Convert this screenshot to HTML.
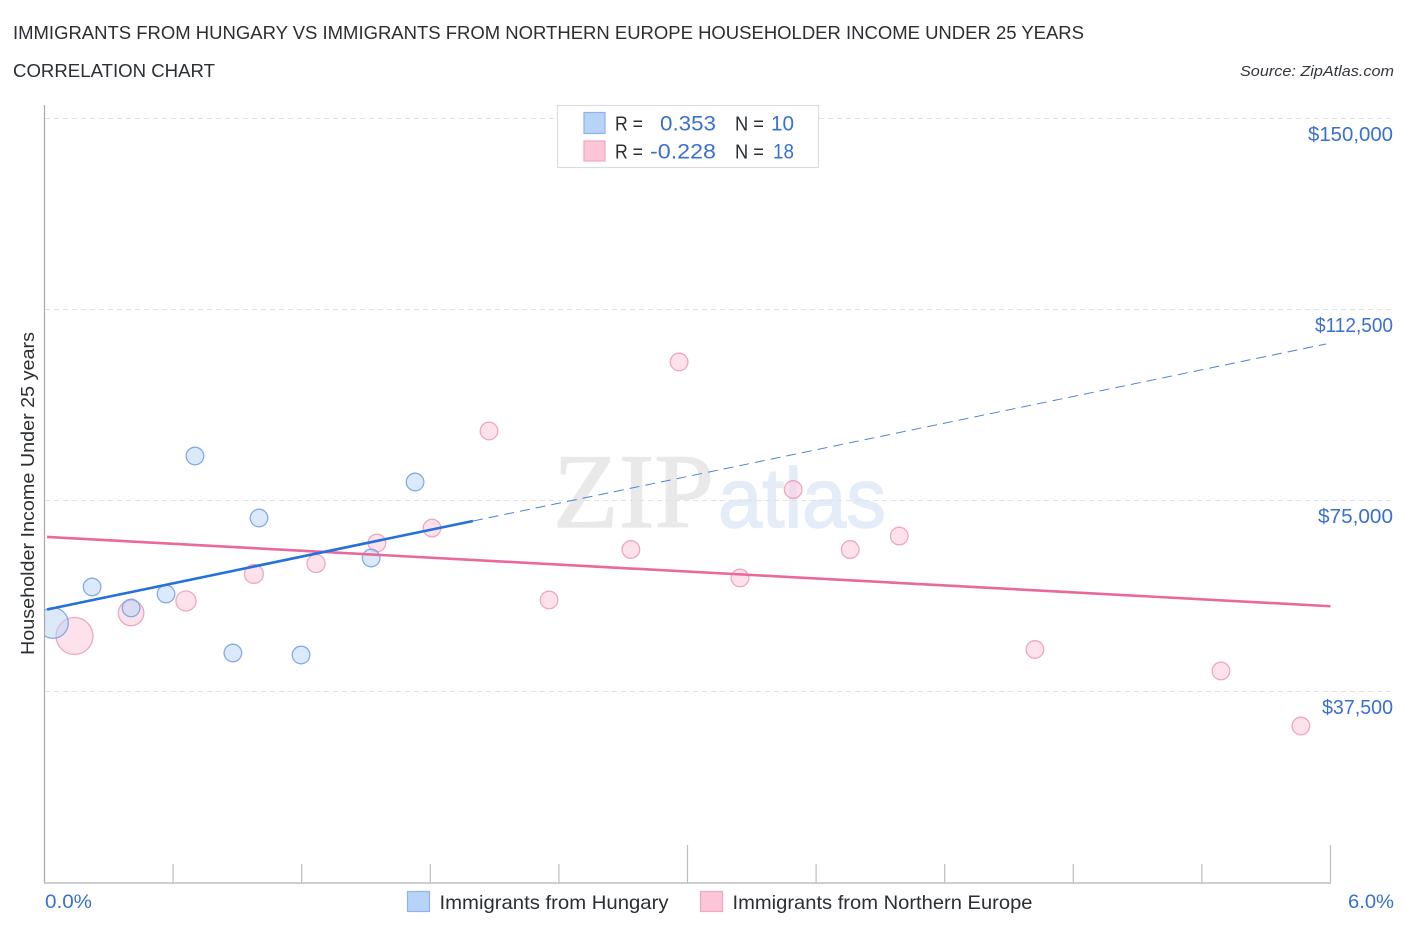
<!DOCTYPE html>
<html lang="en">
<head>
<meta charset="utf-8">
<title>Immigrants from Hungary vs Immigrants from Northern Europe Householder Income Under 25 Years Correlation Chart</title>
<style>
html,body{margin:0;padding:0;background:#fff;width:1406px;height:930px;overflow:hidden}
svg{display:block;font-family:"Liberation Sans",sans-serif}
</style>
</head>
<body>
<svg id="chart" xmlns="http://www.w3.org/2000/svg" width="1406" height="930" viewBox="0 0 1406 930">
  <defs>
    <clipPath id="plot-clip"><rect x="45" y="100" width="1300" height="783"/></clipPath>
  </defs>
  <text x="13" y="39" font-size="18.5" fill="#2b2f33" textLength="1071" lengthAdjust="spacingAndGlyphs">IMMIGRANTS FROM HUNGARY VS IMMIGRANTS FROM NORTHERN EUROPE HOUSEHOLDER INCOME UNDER 25 YEARS</text>
  <text x="13" y="77" font-size="18.5" fill="#2b2f33" textLength="202" lengthAdjust="spacingAndGlyphs">CORRELATION CHART</text>
  <text x="1394" y="76" font-size="15" font-style="italic" fill="#33373b" text-anchor="end" textLength="154" lengthAdjust="spacingAndGlyphs">Source: ZipAtlas.com</text>

  <g>
    <text x="553" y="527" font-family="'Liberation Serif',serif" font-size="106" fill="#e9e9e9" stroke="#e9e9e9" stroke-width="1.2" textLength="161" lengthAdjust="spacingAndGlyphs">ZIP</text>
    <text x="718" y="527" font-family="'Liberation Sans',sans-serif" font-size="84" fill="#e4ecf8" stroke="#e4ecf8" stroke-width="1.5" textLength="168" lengthAdjust="spacingAndGlyphs">atlas</text>
  </g>

  <g id="grid"></g>
  <g id="trends"></g>
  <g id="points" clip-path="url(#plot-clip)"></g>
  <g id="axes"></g>
  <g id="ylabels"></g>

  <text transform="translate(34,655) rotate(-90)" font-size="18.5" fill="#2b2f33" textLength="323" lengthAdjust="spacingAndGlyphs">Householder Income Under 25 years</text>
  <text x="45" y="908" font-size="19" fill="#3a70d0" textLength="47" lengthAdjust="spacingAndGlyphs">0.0%</text>
  <text x="1394" y="908" font-size="19" fill="#3a70d0" text-anchor="end" textLength="46" lengthAdjust="spacingAndGlyphs">6.0%</text>

  <g>
    <rect x="557.5" y="105.5" width="261" height="62" fill="#fff" stroke="#dcdcdc" stroke-width="1.2"/>
    <rect x="584" y="112.5" width="21" height="21" fill="#b7d3f8" stroke="#8db4ea" stroke-width="1.2"/>
    <rect x="584" y="141" width="21" height="20" fill="#fcc5d8" stroke="#f2a7c0" stroke-width="1.2"/>
    <text x="615" y="130.5" font-size="20" fill="#2b2f33" textLength="28" lengthAdjust="spacingAndGlyphs">R =</text>
    <text x="716" y="130.5" font-size="21" fill="#3a70d0" text-anchor="end" textLength="56" lengthAdjust="spacingAndGlyphs">0.353</text>
    <text x="735" y="130.5" font-size="20" fill="#2b2f33" textLength="29" lengthAdjust="spacingAndGlyphs">N =</text>
    <text x="794" y="130.5" font-size="21" fill="#3a70d0" text-anchor="end" textLength="23" lengthAdjust="spacingAndGlyphs">10</text>
    <text x="615" y="158.5" font-size="20" fill="#2b2f33" textLength="28" lengthAdjust="spacingAndGlyphs">R =</text>
    <text x="716" y="158.5" font-size="21" fill="#3a70d0" text-anchor="end" textLength="66" lengthAdjust="spacingAndGlyphs">-0.228</text>
    <text x="735" y="158.5" font-size="20" fill="#2b2f33" textLength="29" lengthAdjust="spacingAndGlyphs">N =</text>
    <text x="794" y="158.5" font-size="21" fill="#3a70d0" text-anchor="end" textLength="21" lengthAdjust="spacingAndGlyphs">18</text>
  </g>

  <g>
    <rect x="407.5" y="891.5" width="22" height="20" fill="#b7d3f8" stroke="#8db4ea" stroke-width="1.2"/>
    <text x="439.5" y="909" font-size="19.5" fill="#2b2f33" textLength="229" lengthAdjust="spacingAndGlyphs">Immigrants from Hungary</text>
    <rect x="700.5" y="891.5" width="22" height="20" fill="#fcc5d8" stroke="#f2a7c0" stroke-width="1.2"/>
    <text x="732.5" y="909" font-size="19.5" fill="#2b2f33" textLength="300" lengthAdjust="spacingAndGlyphs">Immigrants from Northern Europe</text>
  </g>
</svg>
<script>
// Chart data
const yTickValues = [150000, 112500, 75000, 37500];
const yTickLabels = ['$150,000', '$112,500', '$75,000', '$37,500'];
const xTickValues = [0.6, 1.2, 1.8, 2.4, 3.0, 3.6, 4.2, 4.8, 5.4, 6.0];
const xMajorTicks = [3.0, 6.0];

const hungaryShare = [0.04, 0.222, 0.404, 0.567, 0.702, 0.879, 1.001, 1.197, 1.524, 1.729];
const hungaryIncome = [50850, 57920, 53800, 56545, 83640, 44960, 71467, 44570, 63613, 78535];
const hungaryWeight = [3, 1, 1, 1, 1, 1, 1, 1, 1, 1];

const europeShare = [0.14, 0.404, 0.66, 0.977, 1.267, 1.551, 1.808, 2.074, 2.354, 2.736, 2.961, 3.245, 3.493, 3.759, 3.988, 4.621, 5.489, 5.862];
const europeIncome = [48300, 52820, 55170, 60470, 62530, 66560, 69500, 88550, 55370, 65280, 102100, 59690, 77060, 65280, 67930, 45650, 41430, 30630];
const europeWeight = [4.4, 2.1, 1.3, 1.15, 1.05, 1, 1, 1, 1, 1, 1, 1, 1, 1, 1, 1, 1, 1];

const hungaryTrendShare = [0.012, 1.999, 5.979];
const hungaryTrendIncome = [53500, 70880, 105630];
const europeTrendShare = [0.012, 6.0];
const europeTrendIncome = [67740, 54140];

// Axis functions
function xScale(v) { return 44.5 + v * 214.33; }
function yScale(v) { return 691 - (v - 37500) * 191 / 37500; }
function radius(w) { return 8.8 * Math.sqrt(w); }

const NS = 'http://www.w3.org/2000/svg';
function make(parent, tag, attrs) {
  const el = document.createElementNS(NS, tag);
  for (const k in attrs) el.setAttribute(k, attrs[k]);
  parent.appendChild(el);
  return el;
}

const labelFit = {'$150,000': 85, '$112,500': 78, '$75,000': 75, '$37,500': 71};

const grid = document.getElementById('grid');
const ylabels = document.getElementById('ylabels');
yTickValues.forEach(function (v, i) {
  const line = make(grid, 'line', {x1: 45, x2: 1394, y1: yScale(v) + 0.5, y2: yScale(v) + 0.5, stroke: '#e2e2e2', 'stroke-width': 1, 'stroke-dasharray': '5 4'});
  
  
  const label = make(ylabels, 'text', {x: 1393, y: yScale(v) + 23, 'font-size': 20, fill: '#3a70d0', 'text-anchor': 'end', lengthAdjust: 'spacingAndGlyphs'});
  if (labelFit[yTickLabels[i]]) label.setAttribute('textLength', labelFit[yTickLabels[i]]);
  label.textContent = yTickLabels[i];
  
  
});

const axes = document.getElementById('axes');
const yAxis = make(axes, 'line', {x1: 44.5, x2: 44.5, y1: 105, y2: 883, stroke: '#a8a8a8', 'stroke-width': 1.2});


const xAxis = make(axes, 'line', {x1: 44, x2: 1331, y1: 883, y2: 883, stroke: '#bdbdbd', 'stroke-width': 1.5});


xTickValues.forEach(function (v) {
  const top = xMajorTicks.indexOf(v) >= 0 ? 845 : 864;
  const tick = make(axes, 'line', {x1: xScale(v), x2: xScale(v), y1: top, y2: 883, stroke: '#bdbdbd', 'stroke-width': 1.2});
  
  
});

const points = document.getElementById('points');
europeShare.forEach(function (v, i) {
  const c = make(points, 'circle', {cx: xScale(v), cy: yScale(europeIncome[i]), r: radius(europeWeight[i]), fill: '#fcc5d8', 'fill-opacity': 0.5, stroke: '#ee9db9', 'stroke-opacity': 0.9, 'stroke-width': 1.3});
  
  
});
hungaryShare.forEach(function (v, i) {
  const c = make(points, 'circle', {cx: xScale(v), cy: yScale(hungaryIncome[i]), r: radius(hungaryWeight[i]), fill: '#b7d3f8', 'fill-opacity': 0.5, stroke: '#6f9fe4', 'stroke-opacity': 0.85, 'stroke-width': 1.3});
  
  
});

const trends = document.getElementById('trends');
const hDash = make(trends, 'line', {x1: xScale(hungaryTrendShare[1]), y1: yScale(hungaryTrendIncome[1]), x2: xScale(hungaryTrendShare[2]), y2: yScale(hungaryTrendIncome[2]), stroke: '#4c82d6', 'stroke-width': 1, 'stroke-dasharray': '10 6'});



const chart = document.getElementById('chart');
const eLine = make(chart, 'line', {x1: xScale(europeTrendShare[0]), y1: yScale(europeTrendIncome[0]), x2: xScale(europeTrendShare[1]), y2: yScale(europeTrendIncome[1]), stroke: '#e8699a', 'stroke-width': 2.6});


const hLine = make(chart, 'line', {x1: xScale(hungaryTrendShare[0]), y1: yScale(hungaryTrendIncome[0]), x2: xScale(hungaryTrendShare[1]), y2: yScale(hungaryTrendIncome[1]), stroke: '#2470dc', 'stroke-width': 2.6});


</script>
</body>
</html>
